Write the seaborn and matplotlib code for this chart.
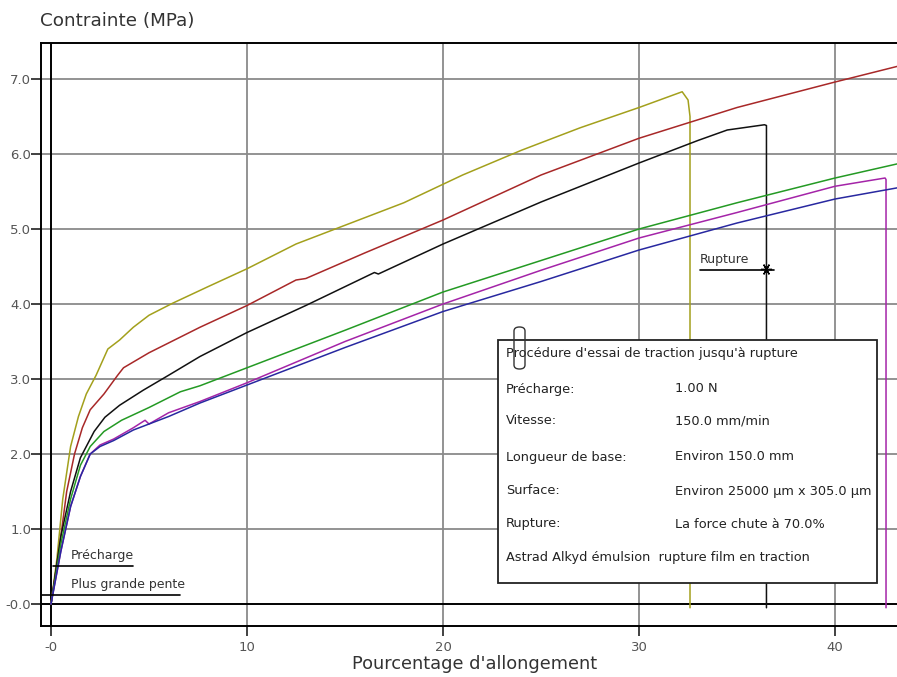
import numpy as np
import pandas as pd
import matplotlib
matplotlib.use("Agg")
import matplotlib.pyplot as plt
import seaborn as sns
from matplotlib.patches import FancyBboxPatch, Rectangle

# ---------------- data ----------------
olive_x = [0, 0.3, 0.6, 1.0, 1.4, 1.8, 2.3, 2.9, 3.5, 4.2, 5.0, 6.2, 8, 10, 12.5, 15, 18, 21, 24, 27, 30, 32.2, 32.5, 32.6, 32.6]
olive_y = [0, 0.6, 1.4, 2.1, 2.5, 2.8, 3.05, 3.4, 3.52, 3.69, 3.85, 4.01, 4.23, 4.47, 4.8, 5.05, 5.35, 5.72, 6.05, 6.35, 6.62, 6.83, 6.72, 6.5, -0.05]

red_x = [0, 0.4, 0.8, 1.2, 1.6, 2.0, 2.7, 3.4, 3.7, 5, 7.6, 10, 12.5, 13, 16, 20, 25, 30, 35, 40, 43.2]
red_y = [0, 0.7, 1.5, 2.0, 2.35, 2.59, 2.8, 3.05, 3.15, 3.35, 3.69, 3.98, 4.32, 4.34, 4.68, 5.12, 5.72, 6.21, 6.62, 6.96, 7.17]

black_x = [0, 0.5, 1, 1.5, 2.2, 2.75, 3.5, 4.7, 6, 7.6, 10, 13, 16.5, 16.7, 20, 25, 30, 33, 34.5, 36.4, 36.5, 36.5]
black_y = [0, 0.9, 1.5, 1.95, 2.3, 2.49, 2.65, 2.85, 3.05, 3.3, 3.62, 3.98, 4.42, 4.4, 4.8, 5.36, 5.88, 6.18, 6.32, 6.39, 6.38, -0.05]

green_x = [0, 0.5, 1, 1.5, 2, 2.7, 3.6, 5, 6.6, 7.6, 10, 15, 20, 25, 30, 35, 40, 43.2]
green_y = [0, 0.8, 1.4, 1.85, 2.1, 2.3, 2.45, 2.62, 2.83, 2.91, 3.15, 3.65, 4.16, 4.58, 5.0, 5.35, 5.68, 5.87]

purple_x = [0, 0.5, 1, 1.5, 2, 2.5, 3.2, 4.2, 4.8, 5.0, 6, 7.6, 10, 15, 20, 25, 30, 35, 40, 42.55, 42.6, 42.6]
purple_y = [0, 0.7, 1.3, 1.7, 2.0, 2.12, 2.2, 2.35, 2.45, 2.4, 2.55, 2.7, 2.95, 3.5, 4.0, 4.45, 4.88, 5.22, 5.57, 5.68, 5.66, -0.05]

blue_x = [0, 0.5, 1, 1.5, 2, 2.5, 3.2, 4.2, 6, 7.6, 10, 15, 20, 25, 30, 35, 40, 43.2]
blue_y = [0, 0.7, 1.3, 1.7, 2.0, 2.1, 2.18, 2.32, 2.5, 2.68, 2.92, 3.42, 3.9, 4.3, 4.72, 5.08, 5.4, 5.55]

series_names = ["olive", "red", "black", "green", "purple", "blue"]
series_colors = ["#a3a01c", "#a82828", "#111111", "#249a24", "#a424a8", "#2828a0"]

x_ticks = [0, 10, 20, 30, 40]
x_tick_labels = ["-0", "10", "20", "30", "40"]
y_ticks = [0, 1, 2, 3, 4, 5, 6, 7]
y_tick_labels = ["-0.0", "1.0", "2.0", "3.0", "4.0", "5.0", "6.0", "7.0"]

rupture_x, rupture_y = 36.5, 4.45

info_labels = ["Précharge:", "Vitesse:", "Longueur de base:", "Surface:", "Rupture:"]
info_values = ["1.00 N", "150.0 mm/min", "Environ 150.0 mm", "Environ 25000 µm x 305.0 µm", "La force chute à 70.0%"]
info_title = "Procédure d'essai de traction jusqu'à rupture"
info_footer = "Astrad Alkyd émulsion  rupture film en traction"

# ---------------- build frame ----------------
frames = []
for name, xs, ys in zip(series_names,
                        [olive_x, red_x, black_x, green_x, purple_x, blue_x],
                        [olive_y, red_y, black_y, green_y, purple_y, blue_y]):
    frames.append(pd.DataFrame({"x": xs, "y": ys, "serie": name}))
df = pd.concat(frames, ignore_index=True)

# ---------------- figure ----------------
sns.set_style("white")
plt.rcParams["font.family"] = ["DejaVu Sans"]

W, H = 897, 677
fig = plt.figure(figsize=(W / 100, H / 100), dpi=100)
ax = fig.add_axes([41 / W, (H - 626) / H, (W - 41) / W, (626 - 43) / H])

def fx(px):
    return px / W

def fy(py):
    return 1 - py / H

ax.set_xlim(-0.51, 43.16)
ax.set_ylim(-0.293, 7.48)

# grid
for xt in x_ticks[1:]:
    ax.axvline(xt, color="#8a8a8a", lw=1.3, zorder=1)
for yt in y_ticks[1:]:
    ax.axhline(yt, color="#8a8a8a", lw=1.3, zorder=1)
ax.axvline(0, color="black", lw=1.4, zorder=1.5)
ax.axhline(0, color="black", lw=1.4, zorder=1.5)

sns.lineplot(data=df, x="x", y="y", hue="serie", palette=dict(zip(series_names, series_colors)),
             estimator=None, sort=False, legend=False, lw=1.1, ax=ax, zorder=3)

# spines
for s in ["left", "top", "bottom"]:
    ax.spines[s].set_color("black")
    ax.spines[s].set_linewidth(1.4)
ax.spines["right"].set_visible(False)

ax.set_xticks(x_ticks)
ax.set_xticklabels(x_tick_labels)
ax.set_yticks(y_ticks)
ax.set_yticklabels(y_tick_labels)
ax.tick_params(axis="both", which="both", direction="out", length=7, width=1.3,
               color="#333333", labelcolor="#555555", labelsize=9.5, bottom=True, left=True)
ax.tick_params(axis="y", pad=0)
ax.tick_params(axis="x", pad=4)
ax.set_xlabel("")
ax.set_ylabel("")

# titles
fig.text(fx(40), fy(21), "Contrainte (MPa)", fontsize=13.2, color="#333333", ha="left", va="center")
fig.text(fx(475), fy(664), "Pourcentage d'allongement", fontsize=12.8, color="#333333", ha="center", va="center")

# Précharge / Plus grande pente annotations
ax.plot([0.1, 4.2], [0.51, 0.51], color="black", lw=1.2, zorder=4)
ax.text(1.0, 0.56, "Précharge", fontsize=9, color="#333333", ha="left", va="bottom", zorder=4)
ax.plot([-0.46, 6.6], [0.12, 0.12], color="black", lw=1.2, zorder=4)
ax.text(1.0, 0.17, "Plus grande pente", fontsize=9, color="#333333", ha="left", va="bottom", zorder=4)

# Rupture marker
ax.plot([33.1, 36.9], [rupture_y, rupture_y], color="black", lw=1.2, zorder=4)
ax.text(33.1, rupture_y + 0.06, "Rupture", fontsize=9, color="#333333", ha="left", va="bottom", zorder=4)
ax.plot([rupture_x], [rupture_y + 0.02], marker=(6, 2, 90), ms=8, color="black", mew=1.0, zorder=5)

# Info box
box = Rectangle((fx(498), fy(583)), fx(877) - fx(498), fy(340) - fy(583), transform=fig.transFigure,
                facecolor="white", edgecolor="#222222", lw=1.3, zorder=10)
fig.patches.append(box)
clip = FancyBboxPatch((fx(514), fy(369)), fx(525) - fx(514), fy(327) - fy(369),
                      boxstyle="round,pad=0,rounding_size=0.006", transform=fig.transFigure,
                      facecolor="none", edgecolor="#333333", lw=1.0, zorder=12)
fig.patches.append(clip)

txt_kw = dict(fontsize=9.3, color="#222222", va="baseline", ha="left", zorder=11)
fig.text(fx(506), fy(357.5), info_title, **txt_kw)
rows_y = [392.5, 424.5, 460.5, 494.5, 527.5]
for lab, val, py in zip(info_labels, info_values, rows_y):
    fig.text(fx(506), fy(py), lab, **txt_kw)
    fig.text(fx(675), fy(py), val, **txt_kw)
fig.text(fx(506), fy(560.5), info_footer, **txt_kw)

fig.savefig("out.png", dpi=100)
